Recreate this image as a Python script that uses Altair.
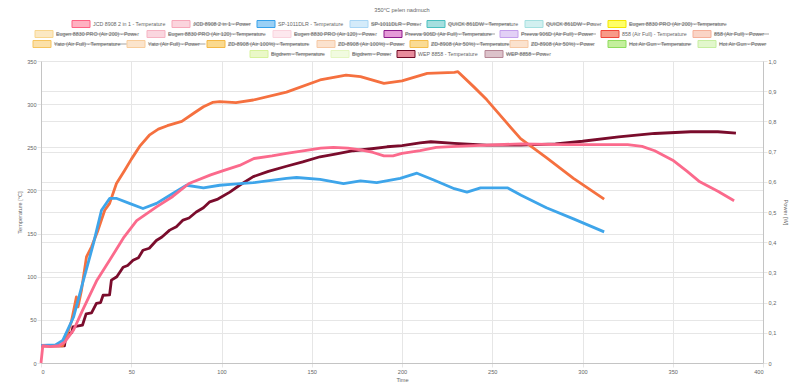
import altair as alt
import pandas as pd

TITLE = "350°C pelen nadmuch"

# ---------------- data ----------------
jcd_x = [0, 1, 5, 10, 13, 18, 23, 31, 38, 46, 53, 64, 73, 82, 94, 101, 110, 118, 128, 136,
         146, 155, 162, 170, 177, 184, 190, 195, 200, 210, 219, 230, 247, 266, 290, 310,
         325, 333, 340, 350, 358, 365, 375, 384]
jcd_y = [0, 20, 19, 20, 24, 38, 61, 96, 119, 146, 165, 181, 193, 208, 218, 223, 229, 237, 240, 243,
         246, 249, 250, 249, 247, 244, 240, 240, 243, 246, 250, 251, 252.5, 254, 253, 253,
         253, 251, 246, 235, 222, 210, 199, 188]

sp_x = [0, 8, 12, 18, 23, 29, 33.5, 38, 42, 49, 56.5, 64, 73, 80.6, 90, 99, 105, 117.6, 136,
        141.6, 154.6, 167.6, 177, 186, 199, 208.3, 217.6, 229, 236, 243.5, 258.4, 266, 280,
        295, 312]
sp_y = [20.5, 21, 26, 53, 92, 138, 177, 190.7, 190.7, 185, 179, 185, 196.5, 206, 203, 206, 207,
        209, 214, 215, 212.7, 208, 211, 209, 214, 220, 212, 202, 198, 203, 203, 194.5, 180,
        167, 152]

t858_x = [0, 12, 14, 16.8, 19.6, 20.5, 22.4, 25.2, 28, 31.6, 35.3, 38, 41.8, 46.4, 50, 55, 60,
          65, 70, 78, 85, 90, 95, 99, 108, 117.6, 136, 154.6, 169, 177, 190, 200, 214, 229,
          231, 239.8, 247, 256.5, 265.7, 280, 295, 312]
t858_y = [20, 20, 30, 47.6, 76.6, 65, 84, 123, 134.6, 154, 177, 185, 208, 223.5, 236, 252, 264,
          271, 275, 280, 290, 297, 302, 303, 301.7, 304.8, 314, 328, 333.7, 331.8, 324, 327,
          335.7, 336.9, 337.6, 320, 305, 282, 260, 238, 214, 190]

wep_x = [0, 13, 14, 17, 17.7, 23, 25, 28, 30.7, 33, 34.4, 38, 39, 42, 45.5, 48, 51, 54, 56.5,
         60, 63.9, 67, 71.3, 75, 78.7, 82, 86, 90, 93.5, 98, 104.6, 110, 117.6, 126, 136, 145,
         154.6, 163, 173, 182, 191.7, 200, 210, 216, 229, 247, 266, 285, 300, 320, 340, 360,
         375, 385]
wep_y = [20, 20, 34, 35, 42, 44, 57, 58, 69, 70, 78.5, 79, 96, 100, 111, 113, 119, 122, 130.7,
         133, 142, 146, 154, 158, 165.6, 168, 175, 180, 186.8, 190, 198, 206, 216, 222, 228,
         233, 239, 242, 246, 248, 250.6, 252, 255, 256.4, 254.5, 252.5, 252.5, 254, 257, 262,
         266, 268, 268, 266.4]

x_ticks = list(range(0, 401, 50))
temp_ticks = list(range(0, 351, 50))
power_ticks = [0, 0.1, 0.2, 0.3, 0.4, 0.5, 0.6, 0.7, 0.8, 0.9, 1.0]

legend_labels = [
    "JCD 8908 2 in 1 - Temperature", "JCD 8908 2 in 1 - Power",
    "SP-1011DLR - Temperature", "SP-1011DLR - Power",
    "QUICK 861DW - Temperature", "QUICK 861DW - Power",
    "Eugen 8830 PRO (Air 200) - Temperature", "Eugen 8830 PRO (Air 200) - Power",
    "Eugen 8830 PRO (Air 120) - Temperature", "Eugen 8830 PRO (Air 120) - Power",
    "Preeva 906D (Air Full) - Temperature", "Preeva 906D (Air Full) - Power",
    "858 (Air Full) - Temperature", "858 (Air Full) - Power",
    "Yato (Air Full) - Temperature", "Yato (Air Full) - Power",
    "ZD-8908 (Air 100%) - Temperature", "ZD-8908 (Air 100%) - Power",
    "ZD-8908 (Air 50%) - Temperature", "ZD-8908 (Air 50%) - Power",
    "Hot Air Gun - Temperature", "Hot Air Gun - Power",
    "Bigdrem - Temperature", "Bigdrem - Power",
    "WEP 8858 - Temperature", "WEP 8858 - Power",
]
legend_hidden = [False, True, False, True, True, True, True, True, True, True, True, True,
                 False, True, True, True, True, True, True, True, True, True, True, True,
                 False, True]

# ---------------- styles / layout ----------------
legend_stroke = ["#ff6384", "#f7a8ba", "#36a2eb", "#a9d6f5", "#4bc0c0", "#a5e0e0",
                 "#f2e600", "#f8d68e", "#f6b3c3", "#fad3dd", "#8b1a8b", "#c4a0ec",
                 "#f0463a", "#f5b09a", "#f6c45e", "#f8cd9c", "#f4b845", "#f6c8a4",
                 "#f4be4c", "#f6c8a4", "#8fdc5c", "#c6eea0", "#d6f29c", "#e4f6c2",
                 "#6e0a26", "#b58594"]
legend_fill = ["#ffb1c1", "#fbd4dd", "#9ad0f5", "#d4ebfa", "#a5dfdf", "#d2f0f0",
               "#ffff66", "#fbe8c2", "#fad6df", "#fde8ee", "#e59ad8", "#e2d0f6",
               "#f89a88", "#fad4c6", "#fbe0a8", "#fbe4cc", "#fad98e", "#fbe2ce",
               "#fadb94", "#fbe2ce", "#c4ef9c", "#e2f7cc", "#eaf8c8", "#f1fbe0",
               "#e88c9c", "#dcc2ca"]
legend_row = [0, 0, 0, 0, 0, 0, 0, 1, 1, 1, 1, 1, 1, 1, 2, 2, 2, 2, 2, 2, 2, 2, 3, 3, 3, 3]
legend_box_x = [72, 172, 257, 350, 427, 525, 608,
                35, 147, 273, 384, 500, 601, 693,
                33, 127, 207, 317, 410, 510, 608, 698,
                250, 331, 397, 485]

PLOT_LEFT = 41       # page x of the plot's left edge
PLOT_W, PLOT_H = 722, 302
ROW_Y = [-37, -27, -17, -7]
CHAR_W = 2.5
FONT = "Liberation Sans"
GREY = "#666666"
GRID = "#e6e6e6"

# ---------------- temperature lines ----------------
line_specs = [
    ("WEP 8858 - Temperature", wep_x, wep_y, "#7a0c2c"),
    ("858 (Air Full) - Temperature", t858_x, t858_y, "#f5703f"),
    ("SP-1011DLR - Temperature", sp_x, sp_y, "#3ea5ea"),
    ("JCD 8908 2 in 1 - Temperature", jcd_x, jcd_y, "#fb6a8c"),
]

x_enc = alt.X("t:Q", scale=alt.Scale(domain=[0, 400], nice=False, zero=False),
              axis=alt.Axis(values=x_ticks, title="Time", grid=True, gridColor=GRID,
                            tickColor=GRID, tickSize=4, domainColor="#c4c4c4",
                            labelColor=GREY, labelFontSize=5.6, labelFont=FONT,
                            titleColor=GREY, titleFontSize=5.6, titleFont=FONT,
                            titleFontWeight="normal", labelPadding=2, titlePadding=3))
y_enc = alt.Y("v:Q", scale=alt.Scale(domain=[0, 350], nice=False),
              axis=alt.Axis(values=temp_ticks, title="Temperature [°C]", grid=True,
                            gridColor=GRID, tickColor=GRID, tickSize=4,
                            domainColor="#c4c4c4", labelColor=GREY, labelFontSize=5.6,
                            labelFont=FONT, titleColor=GREY, titleFontSize=5.6,
                            titleFont=FONT, titleFontWeight="normal", labelPadding=1,
                            titlePadding=4))

temp_layers = []
for name, xs, ys, col in line_specs:
    df = pd.DataFrame({"t": xs, "v": ys, "s": name})
    temp_layers.append(
        alt.Chart(df).mark_line(color=col, strokeWidth=2.8, strokeJoin="round")
        .encode(x=x_enc, y=y_enc)
    )
temp_chart = alt.layer(*temp_layers)

power_df = pd.DataFrame({"p": [0.0, 1.0]})
power_chart = alt.Chart(power_df).mark_point(opacity=0).encode(
    x=alt.value(0),
    y=alt.Y("p:Q", scale=alt.Scale(domain=[0, 1], nice=False),
            axis=alt.Axis(orient="right", values=power_ticks, title="Power [W]", grid=True,
                          gridColor=GRID, tickColor=GRID, tickSize=4,
                          domainColor="#c4c4c4", labelColor=GREY, labelFontSize=5.6,
                          labelFont=FONT, titleColor=GREY, titleFontSize=5.6,
                          titleFont=FONT, titleFontWeight="normal", labelPadding=1,
                          titlePadding=7,
                          labelExpr="datum.value == 0 ? '0' : replace(format(datum.value, '.1f'), '.', ',')")),
)

# ---------------- legend ----------------
leg = pd.DataFrame({
    "label": legend_labels,
    "hidden": legend_hidden,
    "stroke": legend_stroke,
    "fill": legend_fill,
})
leg["bx"] = [b - PLOT_LEFT for b in legend_box_x]
leg["bx2"] = leg["bx"] + 18
leg["ty"] = [ROW_Y[r] for r in legend_row]
leg["by"] = leg["ty"] - 3.5
leg["by2"] = leg["ty"] + 3.5
leg["tx"] = leg["bx"] + 21
leg["sx2"] = leg["tx"] + leg["label"].str.len() * CHAR_W

boxes = alt.Chart(leg).mark_rect(strokeWidth=1).encode(
    x=alt.X("bx:Q", scale=None), x2="bx2:Q",
    y=alt.Y("by:Q", scale=None), y2="by2:Q",
    fill=alt.Fill("fill:N", scale=None),
    stroke=alt.Stroke("stroke:N", scale=None),
)
texts = alt.Chart(leg).mark_text(align="left", baseline="middle", fontSize=5.3,
                                  font=FONT, color=GREY).encode(
    x=alt.X("tx:Q", scale=None), y=alt.Y("ty:Q", scale=None), text="label:N")
strikes = alt.Chart(leg).transform_filter("datum.hidden").mark_rule(
    strokeWidth=0.6, color=GREY).encode(
    x=alt.X("tx:Q", scale=None), x2="sx2:Q", y=alt.Y("ty:Q", scale=None))

title_df = pd.DataFrame({"txt": [TITLE]})
title = alt.Chart(title_df).mark_text(align="center", baseline="middle", fontSize=5.6,
                                      font=FONT, color=GREY).encode(
    x=alt.value(PLOT_W / 2), y=alt.value(-51), text="txt:N")

chart = alt.layer(temp_chart, power_chart, boxes, texts, strikes, title).resolve_scale(
    y="independent"
).properties(
    width=PLOT_W, height=PLOT_H,
    autosize=alt.AutoSizeParams(type="none"),
    padding={"left": 33, "top": 53, "right": 27, "bottom": 20},
).configure_view(stroke=None)

chart.save("out.html", embed_options={"renderer": "svg", "actions": False})
